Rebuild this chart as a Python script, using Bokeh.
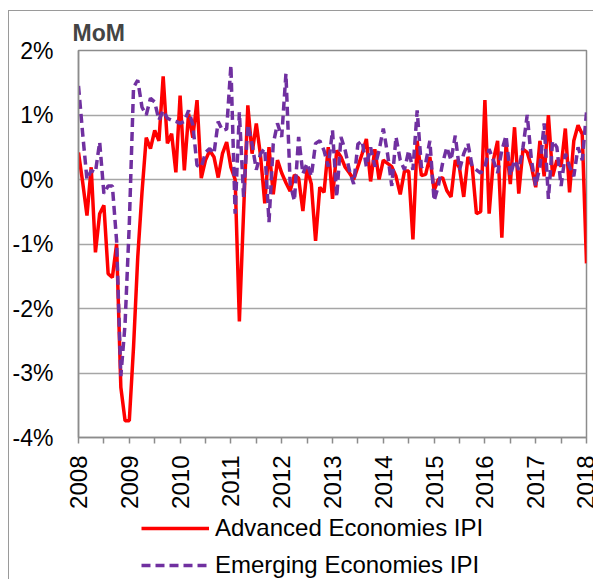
import numpy as np
from bokeh.plotting import figure
from bokeh.layouts import column
from bokeh.models import (FixedTicker, PrintfTickFormatter, Legend, LegendItem, Range1d)
from bokeh.embed import file_html
from bokeh.resources import INLINE

start_year = 2008
year_ticks = list(range(2008, 2019))
y_ticks = [-4, -3, -2, -1, 0, 1, 2]
series_names = ["Advanced Economies IPI", "Emerging Economies IPI"]

advanced_ipi = [
    0.42, -0.05, -0.56, 0.19, -1.13, -0.53, -0.40, -1.46, -1.52, -1.00,
    -3.22, -3.74, -3.74, -2.60, -1.20, -0.20, 0.65, 0.48, 0.76, 0.60,
    1.60, 0.56, 0.71, 0.11, 1.30, 0.14, 1.02, 0.65, 1.23, 0.02,
    0.30, 0.45, 0.35, 0.03, 0.40, 0.58, 0.19, 0.00, -2.20, -0.50,
    1.15, 0.40, 0.87, 0.37, -0.37, 0.50, -0.23, 0.30, 0.10, -0.05,
    -0.18, 0.07, 0.02, -0.49, 0.17, -0.07, -0.95, -0.12, -0.20, 0.50,
    -0.30, 0.45, 0.35, 0.19, 0.10, 0.00, 0.20, 0.40, 0.63, -0.03,
    0.47, 0.00, 0.30, 0.25, 0.20, 0.05, -0.23, 0.13, 0.13, -0.93,
    0.60, 0.06, 0.08, 0.35, -0.17, 0.00, 0.03, -0.17, -0.27, 0.30,
    0.18, -0.27, 0.35, 0.20, -0.53, -0.50, 1.23, -0.53, 0.30, 0.60,
    -0.90, 0.56, -0.07, 0.81, -0.22, 0.47, 0.42, 0.20, -0.12, 0.60,
    0.05, 1.00, 0.05, 0.30, 0.20, 0.79, -0.20, 0.60, 0.84, 0.70,
    -1.30,
]

emerging_ipi = [
    1.45, 0.70, 0.00, 0.14, 0.11, 0.58, -0.22, -0.10, -0.10, -0.95,
    -3.05, -2.24, -0.69, 1.43, 1.54, 1.12, 1.00, 1.26, 1.20, 0.92,
    1.07, 0.95, 0.92, 0.90, 0.87, 0.90, 1.07, 0.85, 0.22, 0.19,
    0.42, 0.48, 0.40, 0.90, 0.76, 0.78, 1.77, -0.53, 1.04, -0.27,
    0.85, 0.55, 0.15, 0.40, 0.48, -0.66, 0.55, 0.87, 0.66, 1.64,
    -0.07, -0.33, 0.66, 0.09, 0.25, 0.05, 0.56, 0.60, 0.45, 0.20,
    0.76, -0.27, 0.66, 0.45, 0.14, -0.07, 0.55, 0.60, 0.20, 0.50,
    0.20, 0.45, 0.79, 0.40, -0.10, 0.66, 0.30, 0.15, 0.45, 0.15,
    1.07, 0.19, 0.25, 0.60, -0.33, -0.10, 0.25, 0.50, 0.30, 0.68,
    0.15, 0.40, 0.56, 0.20, 0.15, 0.10, 0.20, 0.47, 0.30, 0.10,
    0.45, 0.68, 0.06, 0.30, 0.15, 0.50, 1.00, 0.30, -0.10, 0.20,
    0.87, -0.30, 0.60, 0.50, -0.10, 0.40, 0.20, 0.05, 0.50, 0.30,
    1.04,
]

months = [start_year + i / 12.0 for i in range(len(advanced_ipi))]

FONT = "Liberation Sans"
GRAY = "#8c8c8c"
RED = "#ff0000"
PURPLE = "#7030a0"
LW = 3.5
DASH = "9 5"

p = figure(width=584, height=503, output_backend="svg", toolbar_location=None,
           x_range=Range1d(2008, 2018), y_range=Range1d(-4, 2),
           min_border_left=67, min_border_right=7, min_border_top=39,
           min_border_bottom=77, title="MoM")

p.title.text_font = FONT
p.title.text_font_size = "23px"
p.title.text_font_style = "bold"
p.title.align = "left"
p.title.offset = -6
p.title.standoff = 9

p.outline_line_color = GRAY
p.outline_line_width = 1.5

p.xgrid.grid_line_color = None
p.ygrid.grid_line_color = "#a6a6a6"
p.ygrid.grid_line_width = 1.5
p.ygrid.ticker = FixedTicker(ticks=y_ticks)

p.yaxis.ticker = FixedTicker(ticks=y_ticks)
p.yaxis.formatter = PrintfTickFormatter(format="%d%%")
p.yaxis.major_label_text_font = FONT
p.yaxis.major_label_text_font_size = "23px"
p.yaxis.major_label_text_color = "black"
p.yaxis.axis_line_color = GRAY
p.yaxis.axis_line_width = 1.5
p.yaxis.major_tick_line_color = None
p.yaxis.minor_tick_line_color = None
p.yaxis.major_label_standoff = 19

p.xaxis.ticker = FixedTicker(ticks=year_ticks,
                             minor_ticks=[y + 0.5 for y in year_ticks[:-1]])
p.xaxis.major_label_orientation = np.pi / 2
p.xaxis.major_label_text_font = FONT
p.xaxis.major_label_text_font_size = "24px"
p.xaxis.major_label_text_color = "black"
p.xaxis.axis_line_color = GRAY
p.xaxis.axis_line_width = 1.5
p.xaxis.major_tick_line_color = GRAY
p.xaxis.minor_tick_line_color = GRAY
p.xaxis.major_tick_line_width = 1.5
p.xaxis.minor_tick_line_width = 1.5
p.xaxis.major_tick_in = 0
p.xaxis.major_tick_out = 6
p.xaxis.minor_tick_in = 0
p.xaxis.minor_tick_out = 6
p.xaxis.major_label_standoff = 12

p.line(months, advanced_ipi, line_color=RED, line_width=LW)
p.line(months, emerging_ipi, line_color=PURPLE, line_width=LW, line_dash=DASH)

# legend strip underneath the chart (its series lie outside its view range,
# only the legend keys are seen)
lg = figure(width=584, height=65, output_backend="svg", toolbar_location=None,
            x_range=Range1d(0, 1), y_range=Range1d(0, 1),
            x_axis_type=None, y_axis_type=None,
            min_border_left=67, min_border_right=7, min_border_top=0,
            min_border_bottom=0)
lg.outline_line_color = None
lg.xgrid.grid_line_color = None
lg.ygrid.grid_line_color = None
k_adv = lg.line(months, advanced_ipi, line_color=RED, line_width=LW)
k_emg = lg.line(months, emerging_ipi, line_color=PURPLE, line_width=LW, line_dash=DASH)

legend = Legend(items=[LegendItem(label=series_names[0], renderers=[k_adv]),
                       LegendItem(label=series_names[1], renderers=[k_emg])],
                location=(63, 0), orientation="vertical",
                label_text_font=FONT, label_text_font_size="24px",
                label_text_color="black", glyph_width=68, glyph_height=24,
                label_height=24, label_standoff=6, spacing=9, padding=0,
                margin=0, border_line_color=None, background_fill_alpha=0)
lg.add_layout(legend, "center")

page = column(p, lg, spacing=0,
              styles={"border": "1px solid #9a9a9a", "margin-left": "8px",
                      "margin-top": "10px"})

open("out.html", "w").write(file_html(page, INLINE))
